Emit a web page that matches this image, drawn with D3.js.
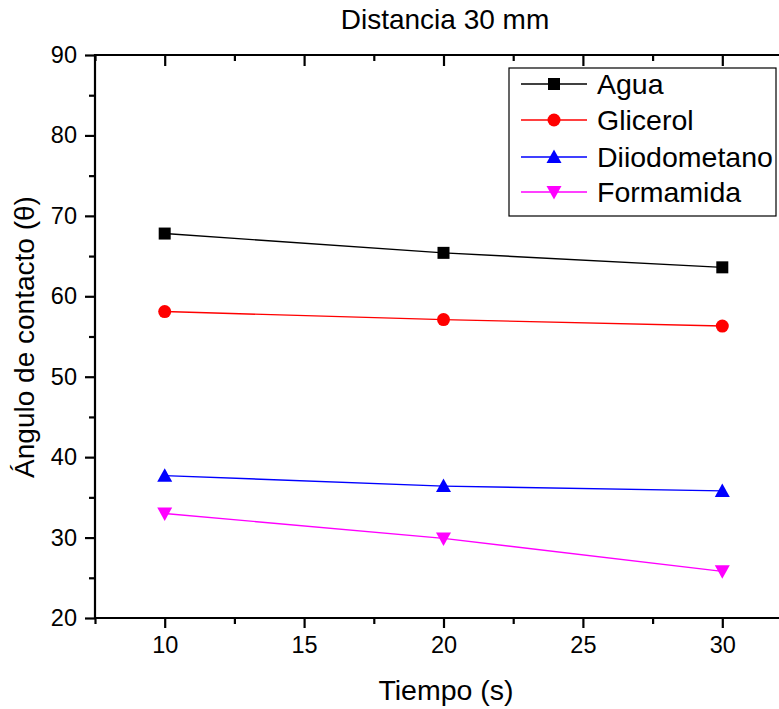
<!DOCTYPE html>
<html>
<head>
<meta charset="utf-8">
<script src="https://cdn.jsdelivr.net/npm/d3@7"></script>
<style>
body{margin:0;background:#fff;}
svg{display:block;font-family:"Liberation Sans",Arial,sans-serif;}
</style>
</head>
<body>
<svg id="chart" width="779" height="709"></svg>
<script>
const title = "Distancia 30 mm";
const xTitle = "Tiempo (s)";
const yTitle = "Ángulo de contacto (θ)";
const tiempos = [10, 20, 30];
const seriesNames = ["Agua", "Glicerol", "Diiodometano", "Formamida"];
const agua = [67.8, 65.4, 63.6];
const glicerol = [58.1, 57.1, 56.3];
const diiodometano = [37.7, 36.4, 35.8];
const formamida = [33.0, 29.9, 25.8];
const xTicks = [10, 15, 20, 25, 30];
const yTicks = [20, 30, 40, 50, 60, 70, 80, 90];

const colors = ["#000000", "#ff0000", "#0000ff", "#ff00ff"];
const symbols = ["square", "circle", "up", "down"];
const allValues = [agua, glicerol, diiodometano, formamida];

const svg = d3.select("#chart");
const L = 95, R = 792, T = 55, B = 618;
const x = d3.scaleLinear().domain([7.5, 32.5]).range([L, R]);
const y = d3.scaleLinear().domain([20, 90]).range([B, T]);

const xMinor = d3.range(7.5, 32.6, 2.5).filter(v => v % 5 !== 0);
const yMinor = d3.range(25, 90, 10);

const axisW = 2.2;
const g = svg.append("g");

const axBottom = g.append("g").attr("transform", `translate(0,${B})`)
  .call(d3.axisBottom(x).tickValues(xTicks).tickSize(10).tickPadding(8).tickFormat(d3.format("d")));
axBottom.append("g").call(d3.axisBottom(x).tickValues(xMinor).tickSize(6).tickFormat(""));
const axTop = g.append("g").attr("transform", `translate(0,${T})`)
  .call(d3.axisBottom(x).tickValues(xTicks).tickSize(11).tickFormat(""));
axTop.append("g").call(d3.axisBottom(x).tickValues(xMinor).tickSize(6).tickFormat(""));
const axLeft = g.append("g").attr("transform", `translate(${L},0)`)
  .call(d3.axisLeft(y).tickValues(yTicks).tickSize(10).tickPadding(8).tickFormat(d3.format("d")));
axLeft.append("g").call(d3.axisLeft(y).tickValues(yMinor).tickSize(6).tickFormat(""));

g.selectAll(".tick line").attr("stroke", "#000").attr("stroke-width", axisW);
g.selectAll(".tick text").attr("font-size", 23.5).attr("fill", "#000")
  .attr("font-family", "'Liberation Sans',Arial,sans-serif");
g.selectAll(".domain").remove();
g.append("line").attr("x1", L).attr("x2", R).attr("y1", B).attr("y2", B).attr("stroke", "#000").attr("stroke-width", axisW);
g.append("line").attr("x1", L).attr("x2", R).attr("y1", T).attr("y2", T).attr("stroke", "#000").attr("stroke-width", axisW);
g.append("line").attr("x1", L).attr("x2", L).attr("y1", T - 1).attr("y2", B + 1).attr("stroke", "#000").attr("stroke-width", axisW);
g.append("line").attr("x1", R).attr("x2", R).attr("y1", T - 1).attr("y2", B + 1).attr("stroke", "#000").attr("stroke-width", axisW);

function drawMarker(sel, type, color, cx, cy) {
  if (type === "square") {
    sel.append("rect").attr("x", cx - 6).attr("y", cy - 6).attr("width", 12).attr("height", 12).attr("fill", color);
  } else if (type === "circle") {
    sel.append("circle").attr("cx", cx).attr("cy", cy).attr("r", 6.5).attr("fill", color);
  } else if (type === "up") {
    sel.append("path").attr("d", `M${cx},${cy - 7.5}L${cx + 7.5},${cy + 6}L${cx - 7.5},${cy + 6}Z`).attr("fill", color);
  } else {
    sel.append("path").attr("d", `M${cx},${cy + 7.5}L${cx + 7.5},${cy - 6}L${cx - 7.5},${cy - 6}Z`).attr("fill", color);
  }
}

const line = d3.line().x((d, i) => x(tiempos[i])).y(d => y(d));
allValues.forEach((vals, k) => {
  svg.append("path").attr("d", line(vals)).attr("fill", "none")
    .attr("stroke", colors[k]).attr("stroke-width", 1.4);
  const mg = svg.append("g");
  vals.forEach((v, i) => drawMarker(mg, symbols[k], colors[k], x(tiempos[i]), y(v)));
});

const lg = svg.append("g");
lg.append("rect").attr("x", 509).attr("y", 68).attr("width", 267).attr("height", 148)
  .attr("fill", "#fff").attr("stroke", "#000").attr("stroke-width", 1.2);
const rowY = [84, 120, 157, 192];
seriesNames.forEach((name, k) => {
  lg.append("line").attr("x1", 521).attr("x2", 587).attr("y1", rowY[k]).attr("y2", rowY[k])
    .attr("stroke", colors[k]).attr("stroke-width", 1.4);
  drawMarker(lg, symbols[k], colors[k], 554, rowY[k]);
  lg.append("text").attr("x", 597).attr("y", rowY[k] + 10).attr("font-size", 28.5).attr("fill", "#000").text(name);
});

svg.append("text").attr("x", 445).attr("y", 29).attr("text-anchor", "middle").attr("font-size", 28).text(title);
svg.append("text").attr("x", 446).attr("y", 700).attr("text-anchor", "middle").attr("font-size", 28.5).text(xTitle);
svg.append("text").attr("transform", "translate(34,337) rotate(-90)").attr("text-anchor", "middle").attr("font-size", 28).text(yTitle);
</script>
</body>
</html>
